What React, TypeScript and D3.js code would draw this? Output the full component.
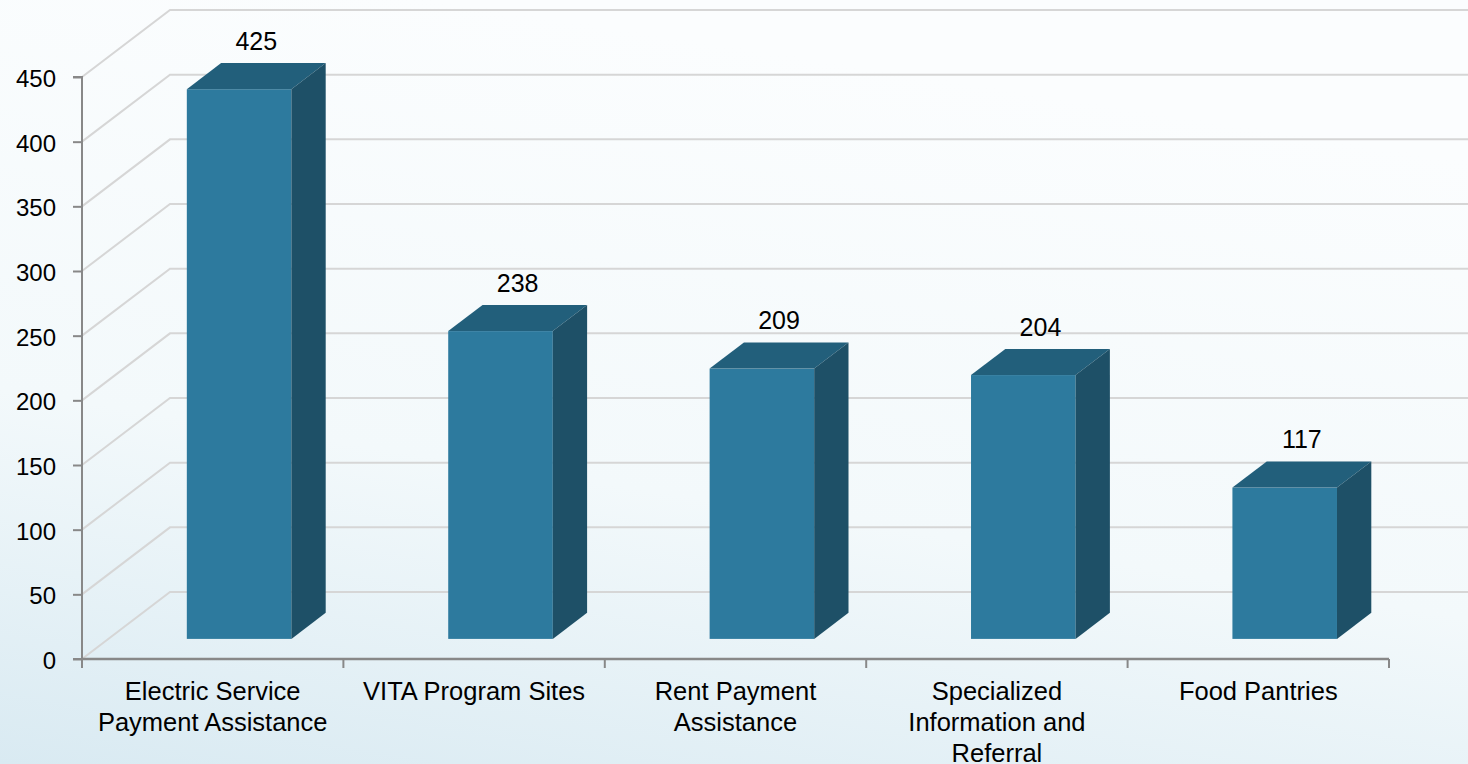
import * as d3 from 'd3';
import { useEffect, useRef } from 'react';

const categories = [
  'Electric Service Payment Assistance',
  'VITA Program Sites',
  'Rent Payment Assistance',
  'Specialized Information and Referral',
  'Food Pantries'
];
const categoryLines = [
  ['Electric Service', 'Payment Assistance'],
  ['VITA Program Sites'],
  ['Rent Payment', 'Assistance'],
  ['Specialized', 'Information and', 'Referral'],
  ['Food Pantries']
];
const values = [425, 238, 209, 204, 117];
const yTicks = [0, 50, 100, 150, 200, 250, 300, 350, 400, 450];

export default function App() {
  const ref = useRef<SVGSVGElement>(null);

  useEffect(() => {
    const width = 1468;
    const height = 764;
    const svg = d3.select(ref.current);
    svg.selectAll('*').remove();

    const font = "'Liberation Sans', Arial, sans-serif";
    const x = d3.scaleBand().domain(categories).range([82, 1389]).padding(0);
    const y = d3.scaleLinear().domain([0, 450]).range([659, 77]);

    // oblique depth vector for the whole floor
    const depth = { dx: 88, dy: -67 };
    const frontF = 0.3;
    const backF = 0.69;
    const barW = x.bandwidth() * 0.4;

    const defs = svg.append('defs');
    const grad = defs
      .append('linearGradient')
      .attr('id', 'bg')
      .attr('x1', 0.3)
      .attr('y1', 0)
      .attr('x2', 0)
      .attr('y2', 1);
    grad.append('stop').attr('offset', '0%').attr('stop-color', '#fbfdfe');
    grad.append('stop').attr('offset', '55%').attr('stop-color', '#f3f9fb');
    grad.append('stop').attr('offset', '100%').attr('stop-color', '#d9eaf2');

    svg.append('rect').attr('width', width).attr('height', height).attr('fill', 'url(#bg)');

    // gridlines: floor-side diagonal + back wall horizontal
    const grid = svg.append('g').attr('fill', 'none').attr('stroke', '#d6d6d6').attr('stroke-width', 2);
    grid
      .selectAll('path')
      .data(yTicks)
      .join('path')
      .attr('d', (d) => {
        const y0 = y(d);
        return `M${x.range()[0]},${y0}L${x.range()[0] + depth.dx},${y0 + depth.dy}L${width},${y0 + depth.dy}`;
      });

    // bars
    const sdx = depth.dx * (backF - frontF);
    const sdy = depth.dy * (backF - frontF);
    const bars = svg
      .append('g')
      .selectAll('g')
      .data(categories.map((c, i) => ({ c, v: values[i] })))
      .join('g');

    const bx = (d) => (x(d.c) as number) + x.bandwidth() / 2 - barW / 2 + depth.dx * frontF;
    const bTop = (d) => y(d.v) + depth.dy * frontF;
    const bBot = y(0) + depth.dy * frontF;

    bars
      .append('rect')
      .attr('x', bx)
      .attr('y', bTop)
      .attr('width', barW)
      .attr('height', (d) => bBot - bTop(d))
      .attr('fill', '#2d7a9e');

    bars
      .append('path')
      .attr('fill', '#225f7b')
      .attr('d', (d) => {
        const x0 = bx(d);
        const t = bTop(d);
        return `M${x0},${t}L${x0 + barW},${t}L${x0 + barW + sdx},${t + sdy}L${x0 + sdx},${t + sdy}Z`;
      });

    bars
      .append('path')
      .attr('fill', '#1e5067')
      .attr('d', (d) => {
        const x1 = bx(d) + barW;
        const t = bTop(d);
        return `M${x1},${t}L${x1 + sdx},${t + sdy}L${x1 + sdx},${bBot + sdy}L${x1},${bBot}Z`;
      });

    bars
      .append('text')
      .attr('x', (d) => bx(d) + barW / 2 + sdx / 2)
      .attr('y', (d) => bTop(d) + sdy - 13)
      .attr('text-anchor', 'middle')
      .attr('font-family', font)
      .attr('font-size', 25)
      .attr('fill', '#000')
      .text((d) => d.v);

    // axes
    const axisColor = '#888888';
    const yAxis = svg
      .append('g')
      .attr('transform', `translate(${x.range()[0]},0)`)
      .call(d3.axisLeft(y).tickValues(yTicks).tickSize(9).tickPadding(17));
    yAxis.select('.domain').attr('stroke', axisColor).attr('stroke-width', 2).attr('d', `M-9,${y(450)}H0V${y(0)}H-9`);
    yAxis.selectAll('.tick line').attr('stroke', axisColor).attr('stroke-width', 2);
    yAxis
      .selectAll('.tick text')
      .attr('font-family', font)
      .attr('font-size', 24)
      .attr('fill', '#000')
      .attr('dy', '0.4em');

    const xAxis = svg.append('g').attr('transform', `translate(0,${y(0)})`);
    xAxis
      .append('line')
      .attr('x1', x.range()[0])
      .attr('x2', x.range()[1])
      .attr('stroke', axisColor)
      .attr('stroke-width', 2.5);
    const bounds = [...categories.map((c) => x(c) as number), x.range()[1]];
    xAxis
      .selectAll('.tk')
      .data(bounds)
      .join('line')
      .attr('class', 'tk')
      .attr('x1', (d) => d)
      .attr('x2', (d) => d)
      .attr('y1', 0)
      .attr('y2', 9)
      .attr('stroke', axisColor)
      .attr('stroke-width', 2);

    xAxis
      .selectAll('text')
      .data(categories)
      .join('text')
      .attr('x', (d) => (x(d) as number) + x.bandwidth() / 2)
      .attr('y', 41)
      .attr('text-anchor', 'middle')
      .attr('font-family', font)
      .attr('font-size', 25.5)
      .attr('fill', '#000')
      .each(function (d, i) {
        const t = d3.select(this);
        categoryLines[i].forEach((line, j) => {
          t.append('tspan')
            .attr('x', (x(d) as number) + x.bandwidth() / 2)
            .attr('dy', j === 0 ? 0 : 31)
            .text(line);
        });
      });
  }, []);

  return (
    <svg
      ref={ref}
      width={1468}
      height={764}
      style={{ position: 'absolute', left: 0, top: 0, display: 'block' }}
    />
  );
}
